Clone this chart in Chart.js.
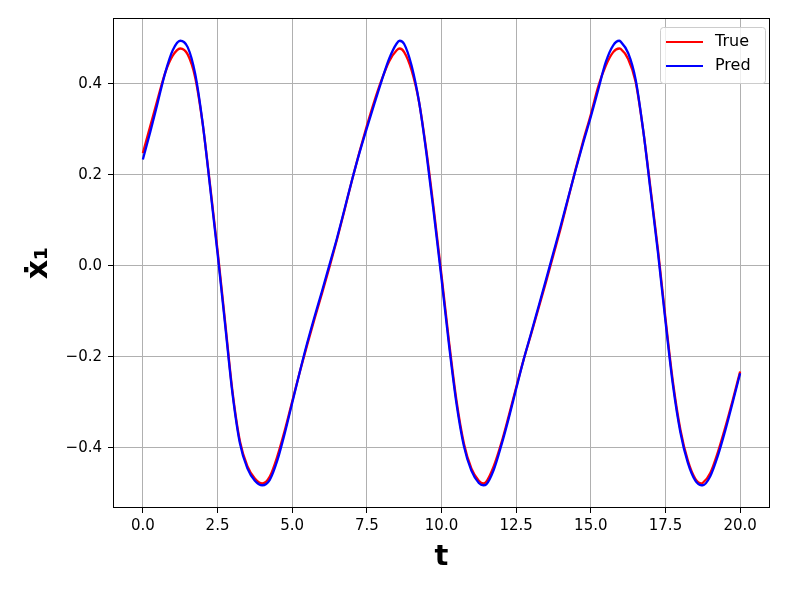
<!DOCTYPE html>
<html>
<head>
<meta charset="utf-8">
<title>x1 dot: True vs Pred</title>
<script src="https://cdn.jsdelivr.net/npm/chart.js@4.4.1/dist/chart.umd.min.js"></script>
<style>
html, body { margin: 0; padding: 0; background: #fff; }
#wrap { width: 789px; height: 592px; }
</style>
</head>
<body>
<div id="wrap"><canvas id="chart" width="789" height="592"></canvas></div>
<script>
// time samples (extra points at the peaks / troughs)
const tVals = [
  0, 0.25, 0.5, 0.75, 1, 1.25, 1.5, 1.75, 2, 2.25, 2.5, 2.75, 3, 3.25, 3.5, 3.75, 4, 4.25, 4.5, 4.75,
  5, 5.25, 5.5, 5.75, 6, 6.25, 6.5, 6.75, 7, 7.25, 7.5, 7.75, 8, 8.25, 8.5, 8.6, 8.75, 9, 9.25, 9.5, 9.75,
  10, 10.25, 10.5, 10.75, 11, 11.25, 11.4, 11.5, 11.75, 12, 12.25, 12.5, 12.75, 13, 13.25, 13.5, 13.75,
  14, 14.25, 14.5, 14.75, 15, 15.25, 15.5, 15.75, 15.95, 16, 16.25, 16.5, 16.75, 17, 17.25, 17.5, 17.75,
  18, 18.25, 18.5, 18.7, 18.75, 19, 19.25, 19.5, 19.75, 20
];

const trueVals = [
  0.248, 0.308, 0.368, 0.425, 0.462, 0.478, 0.465, 0.415, 0.314, 0.178, 0.035, -0.120, -0.275, -0.385, -0.440, -0.467, -0.478, -0.463, -0.419, -0.362,
  -0.298, -0.234, -0.174, -0.116, -0.060, -0.002, 0.058, 0.122, 0.188, 0.250, 0.308, 0.362, 0.410, 0.450, 0.474, 0.478, 0.470, 0.430, 0.360, 0.250, 0.120,
  -0.020, -0.165, -0.295, -0.390, -0.445, -0.472, -0.478, -0.474, -0.440, -0.390, -0.330, -0.267, -0.206, -0.150, -0.093, -0.035, 0.025,
  0.085, 0.150, 0.215, 0.276, 0.333, 0.395, 0.440, 0.470, 0.478, 0.477, 0.455, 0.405, 0.300, 0.170, 0.035, -0.115, -0.255,
  -0.360, -0.428, -0.468, -0.478, -0.477, -0.455, -0.410, -0.355, -0.295, -0.232
];

const predVals = [
  0.234, 0.295, 0.360, 0.425, 0.474, 0.495, 0.481, 0.423, 0.315, 0.174, 0.028, -0.126, -0.280, -0.390, -0.445, -0.472, -0.482, -0.470, -0.428, -0.368,
  -0.301, -0.234, -0.170, -0.111, -0.055, 0.003, 0.061, 0.124, 0.188, 0.248, 0.303, 0.356, 0.408, 0.456, 0.489, 0.495, 0.488, 0.440, 0.360, 0.245, 0.112,
  -0.028, -0.173, -0.302, -0.396, -0.450, -0.477, -0.482, -0.480, -0.448, -0.395, -0.335, -0.270, -0.206, -0.148, -0.089, -0.030, 0.030,
  0.090, 0.152, 0.213, 0.272, 0.328, 0.388, 0.448, 0.485, 0.495, 0.493, 0.468, 0.410, 0.300, 0.165, 0.028, -0.122, -0.262,
  -0.366, -0.433, -0.472, -0.482, -0.482, -0.462, -0.418, -0.362, -0.300, -0.236
];

const xTicks = [0, 2.5, 5, 7.5, 10, 12.5, 15, 17.5, 20];
const yTicks = [-0.4, -0.2, 0, 0.2, 0.4];

const FONT = 'DejaVu Sans';

function fmt(v) {
  const s = Math.abs(v).toFixed(1);
  return v < 0 ? '\u2212' + s : s;
}

// frame around the plot area (matplotlib style box)
const framePlugin = {
  id: 'frame',
  afterDatasetsDraw(chart) {
    const a = chart.chartArea;
    const c = chart.ctx;
    c.save();
    c.strokeStyle = '#000';
    c.lineWidth = 1;
    c.strokeRect(Math.round(a.left) + 0.5, Math.round(a.top) + 0.5,
      Math.round(a.right - a.left) - 1, Math.round(a.bottom - a.top) - 1);
    c.restore();
  }
};

// legend drawn inside the axes, upper right
const legendPlugin = {
  id: 'innerLegend',
  afterDraw(chart) {
    const a = chart.chartArea;
    const c = chart.ctx;
    const ds = chart.data.datasets;
    const w = 105, h = 56;
    const x = a.right - 5 - w, y = a.top + 9;
    c.save();
    c.fillStyle = 'rgba(255,255,255,0.8)';
    c.strokeStyle = '#cccccc';
    c.lineWidth = 1;
    c.beginPath();
    c.roundRect(x + 0.5, y + 0.5, w, h, 3);
    c.fill();
    c.stroke();
    c.font = '16px "' + FONT + '"';
    c.textBaseline = 'middle';
    c.fillStyle = '#000';
    ds.forEach((d, i) => {
      const ry = y + 15 + i * 24;
      c.strokeStyle = d.borderColor;
      c.lineWidth = 2;
      c.beginPath();
      c.moveTo(x + 6, ry);
      c.lineTo(x + 43, ry);
      c.stroke();
      c.fillText(d.label, x + 55, ry);
    });
    c.restore();
  }
};

const ctx = document.getElementById('chart').getContext('2d');
const chart = new Chart(ctx, {
  type: 'line',
  data: {
    datasets: [
      {
        label: 'True',
        data: tVals.map((t, i) => ({ x: t, y: trueVals[i] })),
        borderColor: '#ff0000',
        borderWidth: 2.3,
        pointRadius: 0,
        cubicInterpolationMode: 'monotone',
        order: 1
      },
      {
        label: 'Pred',
        data: tVals.map((t, i) => ({ x: t, y: predVals[i] })),
        borderColor: '#0000ff',
        borderWidth: 2.3,
        pointRadius: 0,
        cubicInterpolationMode: 'monotone',
        order: 0
      }
    ]
  },
  options: {
    responsive: false,
    animation: false,
    devicePixelRatio: 1,
    layout: { padding: { top: 18, right: 19, left: 0, bottom: 0 } },
    plugins: {
      legend: { display: false },
      tooltip: { enabled: false }
    },
    scales: {
      x: {
        type: 'linear',
        min: -1,
        max: 21,
        afterBuildTicks: (s) => { s.ticks = xTicks.map(v => ({ value: v })); },
        afterFit: (s) => { s.height = 84; },
        grid: { color: '#b0b0b0', lineWidth: 1, tickColor: '#000', tickLength: 5 },
        border: { display: false },
        ticks: {
          color: '#000',
          padding: 4,
          maxRotation: 0,
          font: { family: FONT, size: 15 },
          callback: (v) => fmt(v)
        },
        title: {
          display: true,
          text: 't',
          color: '#000',
          font: { family: FONT, size: 29, weight: 'bold' },
          padding: { top: 0, bottom: 17 }
        }
      },
      y: {
        type: 'linear',
        min: -0.532,
        max: 0.545,
        afterBuildTicks: (s) => { s.ticks = yTicks.map(v => ({ value: v })); },
        afterFit: (s) => { s.width = 113; },
        grid: { color: '#b0b0b0', lineWidth: 1, tickColor: '#000', tickLength: 5 },
        border: { display: false },
        ticks: {
          color: '#000',
          padding: 6,
          font: { family: FONT, size: 15 },
          callback: (v) => fmt(v)
        },
        title: {
          display: true,
          text: '\u1E8B\u2081',
          color: '#000',
          font: { family: FONT, size: 30, weight: 'bold' },
          padding: { top: 21, bottom: 0 }
        }
      }
    }
  },
  plugins: [framePlugin, legendPlugin]
});
</script>
</body>
</html>
